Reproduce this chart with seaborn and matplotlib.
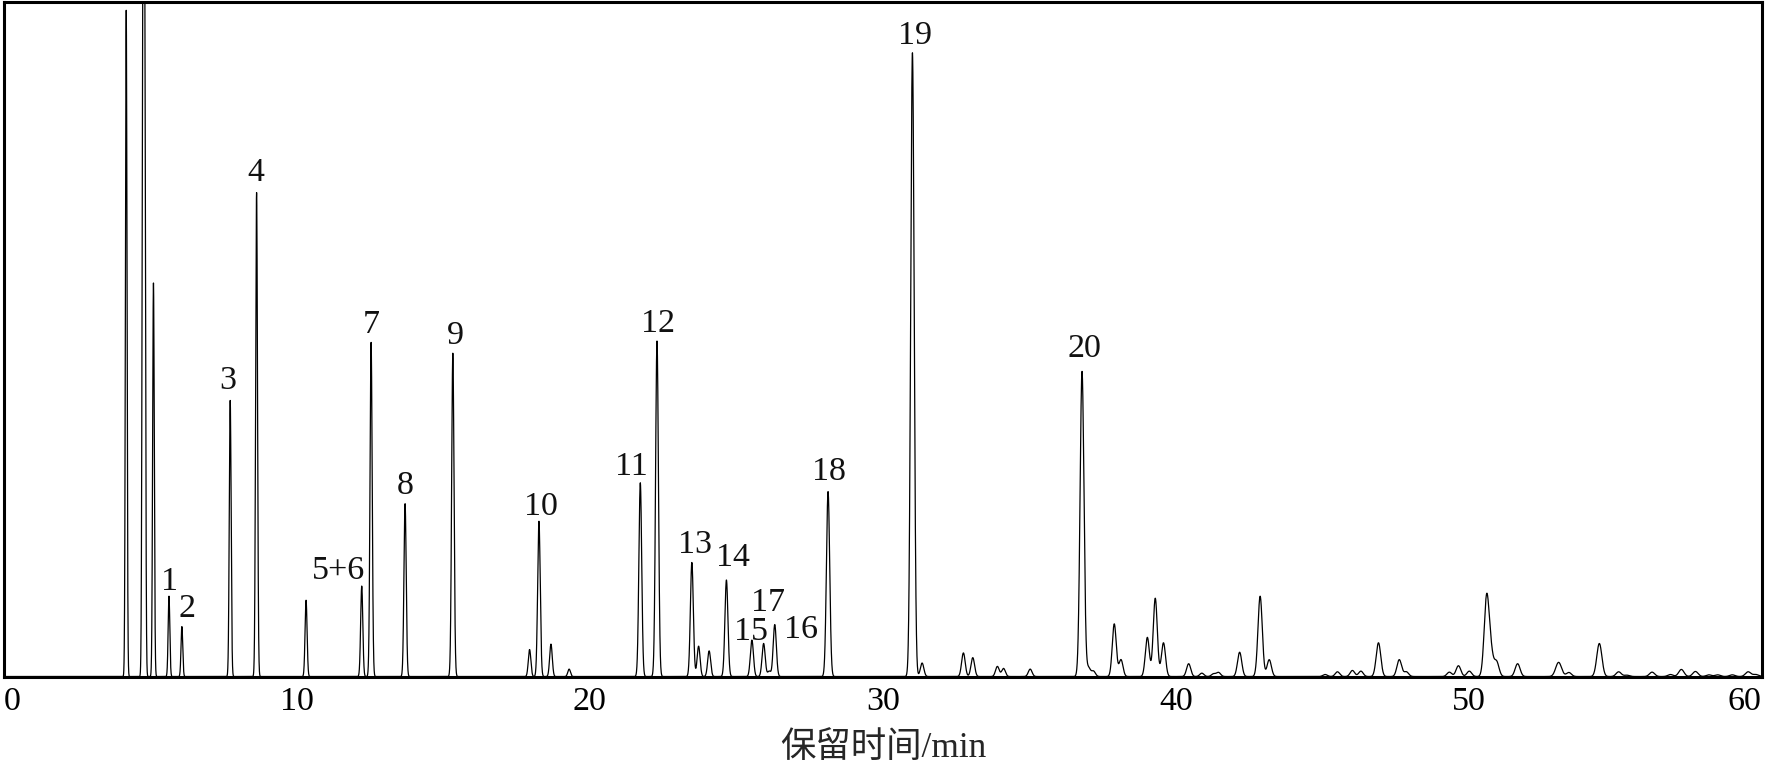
import numpy as np
import pandas as pd
import matplotlib
matplotlib.use('Agg')
import matplotlib.pyplot as plt
import seaborn as sns

# peak list: retention time (min), height (% of axis)
peak_times = [4.17, 4.74, 4.80, 5.10, 5.63, 6.07, 7.72, 8.62, 10.31, 12.21, 12.53,
              13.69, 15.32, 17.94, 18.26, 18.67, 19.29, 21.72, 22.29, 23.48, 23.71,
              24.07, 24.66, 25.53, 25.93, 26.12, 26.31, 28.13, 31.01, 31.34, 32.75,
              33.07, 33.91, 34.12, 35.03, 36.80, 37.02, 37.19, 37.90, 38.13, 39.03,
              39.30, 39.58, 40.44, 40.89, 41.29, 41.46, 42.18, 42.88, 43.19, 45.10,
              45.52, 46.03, 46.32, 46.92, 47.63, 47.87, 49.34, 49.65, 50.02, 50.61,
              50.75, 50.95, 51.67, 53.07, 53.42, 54.46, 55.12, 55.40, 56.26, 56.89,
              57.26, 57.74, 58.20, 58.50, 59.00, 59.54, 59.80]
peak_heights = [98.7, 98.7, 98.7, 58.3, 11.9, 7.4, 40.9, 71.7, 11.3, 13.4, 49.5,
                25.6, 47.9, 4.0, 23.0, 4.8, 1.1, 28.7, 49.7, 16.9, 4.5,
                3.8, 14.3, 5.4, 4.9, 0.8, 7.7, 27.4, 92.4, 2.0, 3.5,
                2.8, 1.5, 1.2, 1.1, 45.2, 1.3, 0.8, 7.8, 2.5, 5.8,
                11.6, 5.0, 1.9, 0.5, 0.4, 0.6, 3.6, 11.9, 2.5, 0.3,
                0.7, 0.9, 0.8, 5.0, 2.5, 0.7, 0.65, 1.6, 0.8, 11.4,
                3.5, 2.2, 1.9, 2.1, 0.6, 4.9, 0.7, 0.2, 0.65, 0.3,
                1.05, 0.75, 0.25, 0.25, 0.25, 0.7, 0.3]

# labelled components: text, x (min), baseline y
label_texts = ['1', '2', '3', '4', '5+6', '7', '8', '9', '10', '11', '12',
               '13', '14', '15', '17', '16', '18', '19', '20']
label_x = [5.64, 6.24, 7.64, 8.60, 11.42, 12.54, 13.71, 15.39, 18.33, 21.40, 22.31,
           23.60, 24.87, 25.51, 26.07, 27.21, 28.16, 31.09, 36.89]
label_y = [12.85, 8.8, 42.6, 73.4, 14.5, 50.9, 27.0, 49.3, 24.0, 29.8, 51.0,
           18.3, 16.35, 5.4, 9.7, 5.7, 29.1, 93.7, 47.4]

x_ticks = [0, 10, 20, 30, 40, 50, 60]

# build the trace from the peak list
t = np.linspace(0, 60, 24001)
signal = np.zeros_like(t)
for rt, h in zip(peak_times, peak_heights):
    sigma = 0.022 + 0.0012 * rt
    if rt > 53 and rt < 53.2:
        sigma = 0.1
    signal += h * np.exp(-0.5 * ((t - rt) / sigma) ** 2)
df = pd.DataFrame({'time': t, 'signal': signal})

sns.set_style('white')
plt.rcParams['font.family'] = ['Liberation Serif', 'Noto Sans CJK SC']

fig = plt.figure(figsize=(17.71, 7.66), dpi=100)
ax = fig.add_axes([0.0023, 0.1168, 0.9924, 0.8812])
sns.lineplot(data=df, x='time', y='signal', ax=ax, color='black',
             linewidth=0.9, estimator=None, sort=False)

for txt, lx, ly in zip(label_texts, label_x, label_y):
    ax.text(lx, ly, txt, ha='center', va='baseline', fontsize=24.5, color='#111111')

ax.set_xlim(0, 60)
ax.set_ylim(0, 100)
ax.set_xticks(x_ticks)
ax.set_xticklabels([str(v) for v in x_ticks], fontsize=24.5)
# keep the end labels inside the figure, as in the original
tl = ax.get_xticklabels()
tl[0].set_horizontalalignment('left')
tl[-1].set_horizontalalignment('right')
ax.set_yticks([])
ax.tick_params(axis='x', direction='in', length=5, width=1.2, pad=7, colors='black')
ax.set_xlabel('保留时间/min', fontsize=25.5, labelpad=11)
ax.set_ylabel('')
for s in ax.spines.values():
    s.set_linewidth(2.2)
    s.set_color('black')

fig.savefig('out.png', dpi=100)
